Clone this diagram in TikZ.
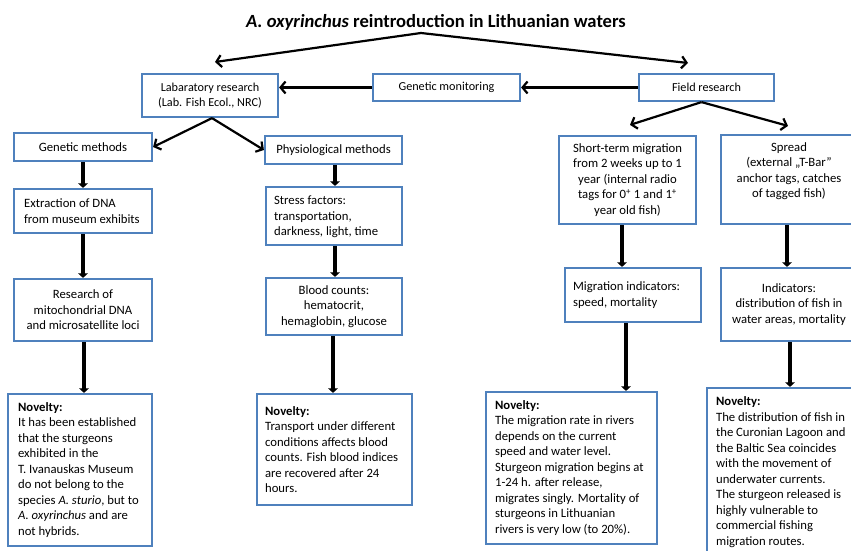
\documentclass[tikz,border=0pt]{standalone}
\usepackage{fontspec}
\setmainfont{Carlito}
\usetikzlibrary{arrows.meta,calc}
\definecolor{boxblue}{HTML}{4F81BD}
\newcommand\fsz[2]{\fontsize{#1}{#2}\selectfont}
\tikzset{
  box/.style={draw=boxblue, line width=2.2pt, fill=white, inner sep=0pt, rectangle},
  body/.style={font=\fsz{12.7}{15.5}},
  small/.style={font=\fsz{12.2}{14.3}},
  txt/.style={body, align=left, inner sep=0pt, anchor=west},
  garr/.style={line width=2.2pt, -{Straight Barb[length=5pt,width=12pt]}},
  varr/.style={line width=3.4pt, -{Triangle[length=4.5pt,width=9.5pt]}},
}
\begin{document}
\begin{tikzpicture}[x=1pt,y=-1pt]
\useasboundingbox (0,0) rectangle (851,551);
\clip (0,0) rectangle (851,551);
\fill[white] (0,0) rectangle (851,551);

% title
\node[inner sep=0pt] (title) at (436,22) {\fsz{18.6}{22}\bfseries\itshape A. oxyrinchus\upshape{} reintroduction in Lithuanian waters};
\coordinate (apex) at (421,33);
\coordinate (labtip) at (215,62);
\coordinate (fieldtip) at (688,63);

% top row
\node[box, small, align=center, minimum width=136pt, minimum height=43pt] (lab) at (210,95.5) {Labaratory research\\(Lab. Fish Ecol., NRC)};
\node[box, small, align=center, minimum width=147pt, minimum height=27pt] (gm) at (446.5,87.5) {Genetic monitoring};
\node[box, small, align=center, minimum width=135pt, minimum height=27pt] (field) at (706.5,87.5) {Field research};

% left branch
\node[box, body, align=center, minimum width=138pt, minimum height=28pt] (genm) at (83,147) {Genetic methods};
\node[box, body, align=center, minimum width=137pt, minimum height=28pt] (phys) at (333.5,150) {Physiological methods};

\node[box, minimum width=138pt, minimum height=44pt] (extr) at (83,211) {};
\node[txt] (extrtxt) at ($(extr.west)+(11,0)$) {Extraction of DNA\\from museum exhibits};

\node[box, minimum width=136pt, minimum height=58pt] (stress) at (334,216) {};
\node[txt] (stresstxt) at ($(stress.west)+(9,1)$) {Stress factors:\\transportation,\\darkness, light, time};

\node[box, body, align=center, minimum width=138pt, minimum height=62pt] (resmt) at (83,310) {Research of\\mitochondrial DNA\\and microsatellite loci};
\node[box, body, align=center, minimum width=136pt, minimum height=57pt] (blood) at (334,306.5) {Blood counts:\\hematocrit,\\hemaglobin, glucose};

% right branch
\node[box, body, align=center, minimum width=137pt, minimum height=88pt] (short) at (627.5,180) {Short-term migration\\from 2 weeks up to 1\\year (internal radio\\tags for 0\textsuperscript{+} 1 and 1\textsuperscript{+}\\year old fish)};
\node[box, minimum width=136pt, minimum height=89pt] (spread) at (789,179.5) {};
\node[body, align=center, inner sep=0pt] (spreadtxt) at (789,171) {Spread\\(external „T-Bar”\\anchor tags, catches\\of tagged fish)};

\node[box, minimum width=136pt, minimum height=54pt] (migind) at (633,295) {};
\node[txt] (migindtxt) at ($(migind.west)+(9,0)$) {Migration indicators:\\speed, mortality};
\node[box, body, align=center, minimum width=136pt, minimum height=73pt] (ind) at (789,304.5) {Indicators:\\distribution of fish in\\water areas, mortality};

% novelty boxes
\node[box, minimum width=144pt, minimum height=152pt] (nov1) at (80,470) {};
\node[txt] (nov1txt) at ($(nov1.west)+(11,0)$) {\textbf{Novelty:}\\It has been established\\that the sturgeons\\exhibited in the\\T. Ivanauskas Museum\\do not belong to the\\species \textit{A. sturio}, but to\\\textit{A. oxyrinchus} and are\\not hybrids.};

\node[box, minimum width=155pt, minimum height=111pt] (nov2) at (334.5,449.5) {};
\node[txt] (nov2txt) at ($(nov2.west)+(9,0)$) {\textbf{Novelty:}\\Transport under different\\conditions affects blood\\counts. Fish blood indices\\are recovered after 24\\hours.};

\node[box, minimum width=171pt, minimum height=152pt] (nov3) at (571.5,468) {};
\node[txt] (nov3txt) at ($(nov3.west)+(10,0)$) {\textbf{Novelty:}\\The migration rate in rivers\\depends on the current\\speed and water level.\\Sturgeon migration begins at\\1-24 h. after release,\\migrates singly. Mortality of\\sturgeons in Lithuanian\\rivers is very low (to 20\%).};

\node[box, minimum width=160pt, minimum height=168pt] (nov4) at (787,472) {};
\node[txt] (nov4txt) at ($(nov4.west)+(10,0)$) {\textbf{Novelty:}\\The distribution of fish in\\the Curonian Lagoon and\\the Baltic Sea coincides\\with the movement of\\underwater currents.\\The sturgeon released is\\highly vulnerable to\\commercial fishing\\migration routes.};

% arrows: top
\draw[garr] (apex) -- (labtip);
\draw[garr] (apex) -- (fieldtip);
\draw[garr] (field.west) -- (gm.east);
\draw[garr] (gm.west) -- (gm.west -| lab.east);
\coordinate (labfoot) at ($(lab.south)+(2,0)$);
\coordinate (fieldfoot) at ($(field.south)+(-5,0)$);
\coordinate (shorttip) at ($(short.north)+(2.5,-10)$);
\coordinate (spreadtip) at ($(spread.north)+(-1,-8)$);
\draw[garr] (labfoot) -- (genm.east);
\draw[garr] (labfoot) -- (phys.west);
\draw[garr] (fieldfoot) -- (shorttip);
\draw[garr] (fieldfoot) -- (spreadtip);

% vertical arrows
\coordinate (a3) at ($(resmt.south)+(1,0)$);
\coordinate (a4) at ($(phys.south)+(1.5,0)$);
\coordinate (a5) at ($(stress.south)+(1,0)$);
\coordinate (a6) at ($(blood.south)+(-1,0)$);
\coordinate (a7) at ($(short.south)+(-5.5,0)$);
\coordinate (a8) at ($(migind.south)+(-7,0)$);
\coordinate (a9) at ($(spread.south)+(-2,0)$);
\coordinate (a10) at ($(ind.south)+(1,0)$);
\draw[varr] (genm.south) -- (extr.north);
\draw[varr] (extr.south) -- (resmt.north);
\draw[varr] (a3) -- (a3 |- nov1.north);
\draw[varr] (a4) -- (a4 |- stress.north);
\draw[varr] (a5) -- (a5 |- blood.north);
\draw[varr] (a6) -- (a6 |- nov2.north);
\draw[varr] (a7) -- (a7 |- migind.north);
\draw[varr] (a8) -- (a8 |- nov3.north);
\draw[varr] (a9) -- (a9 |- ind.north);
\draw[varr] (a10) -- (a10 |- nov4.north);
\end{tikzpicture}
\end{document}
